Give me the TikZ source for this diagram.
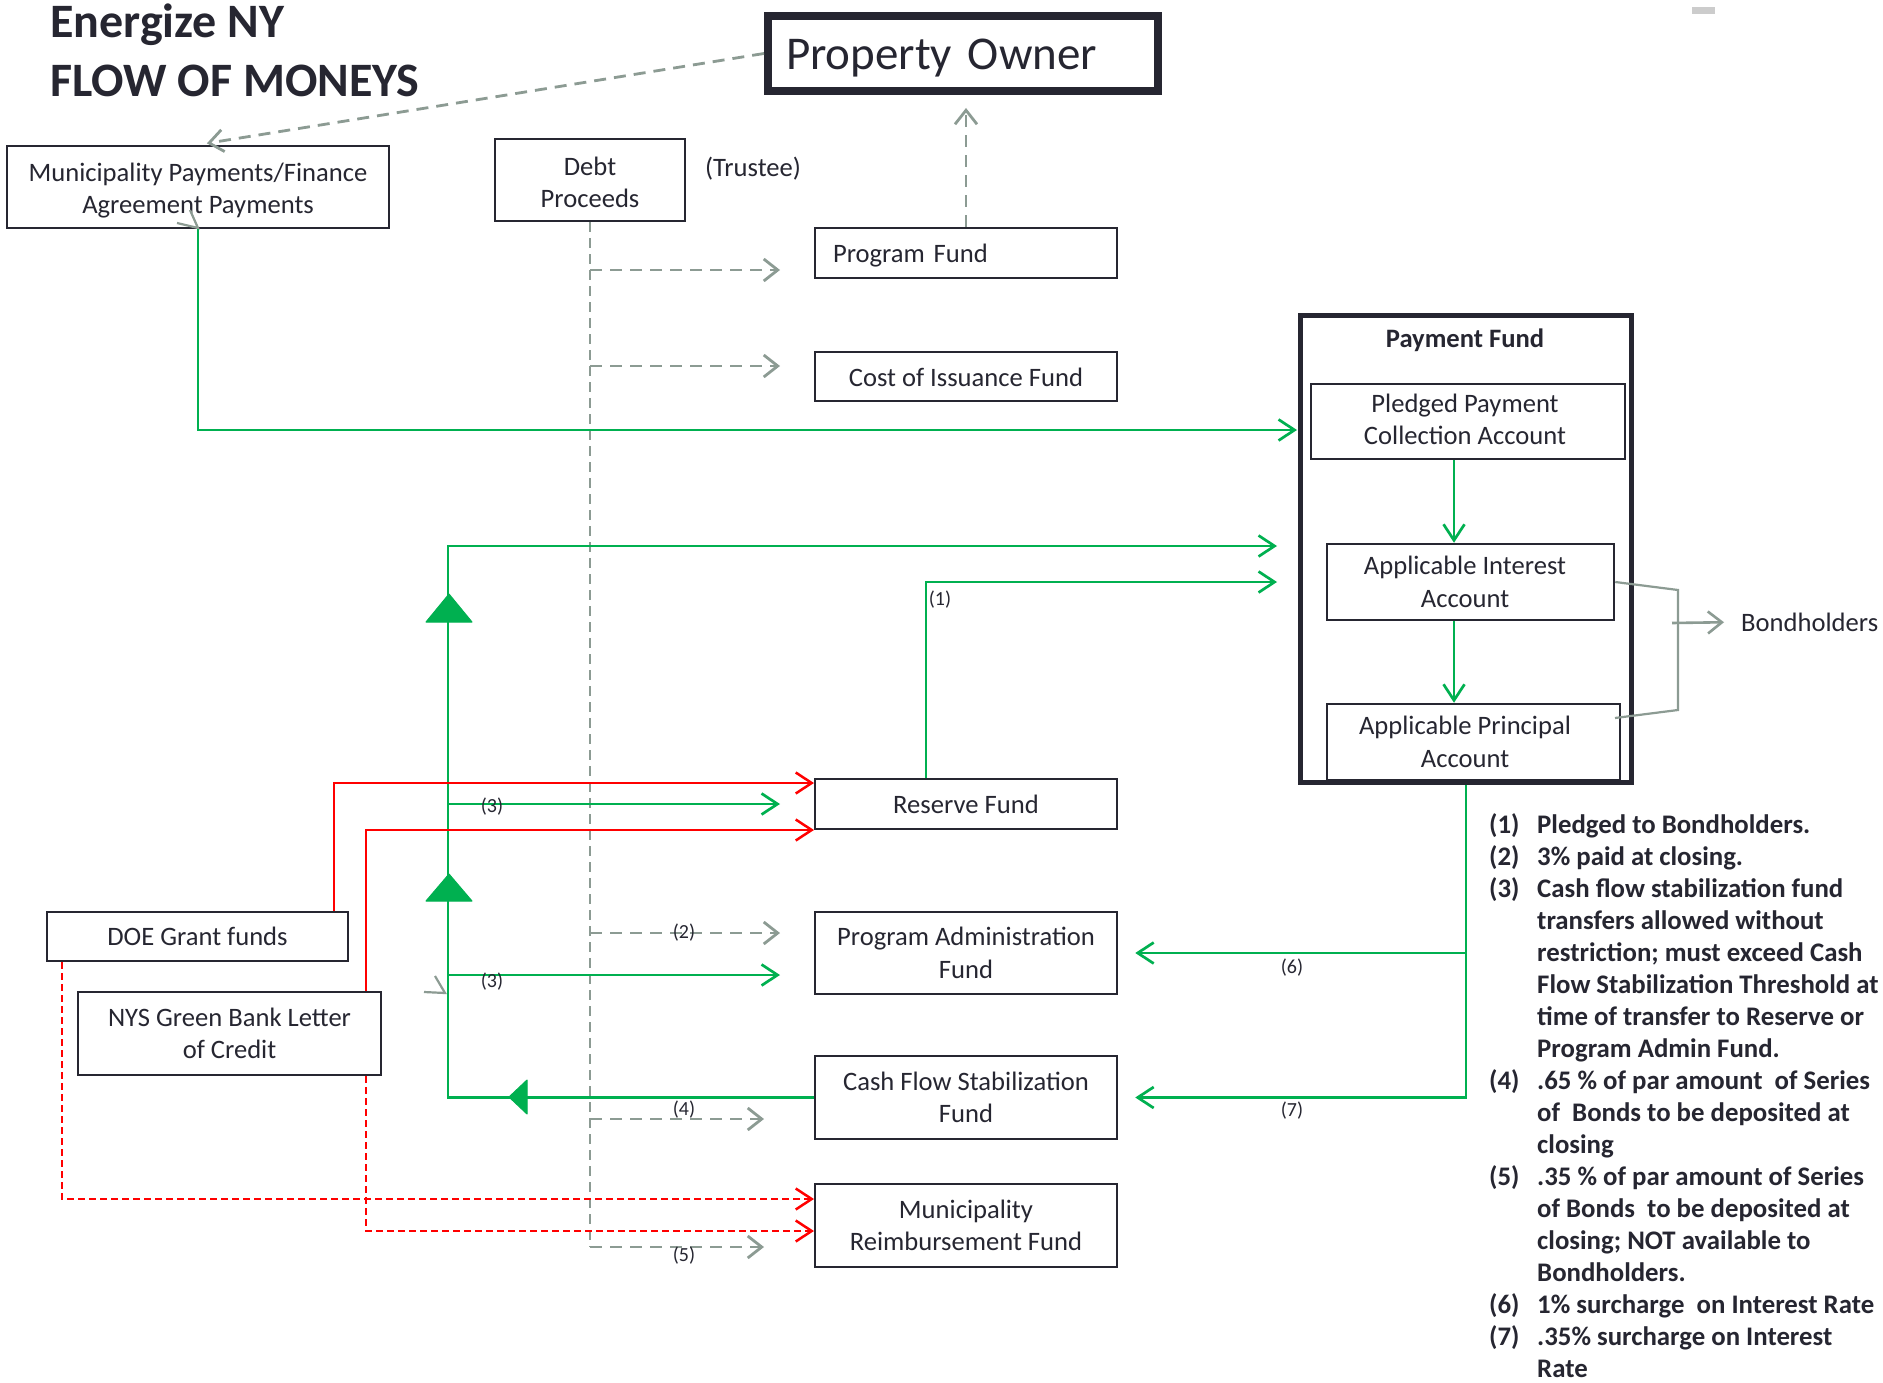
\documentclass[tikz,border=0pt]{standalone}
\usepackage{fontspec}
\setmainfont{Carlito}
\usetikzlibrary{arrows.meta,calc}
\definecolor{ink}{HTML}{262631}
\definecolor{cGreen}{HTML}{00B050}
\definecolor{cRed}{HTML}{FF0000}
\definecolor{cSage}{HTML}{8C9B93}
\newcommand\lblfont{\fontsize{26.6}{32.5}\selectfont}
\newcommand\notefont{\fontsize{26.8}{32}\selectfont}
\newcommand\smlfont{\fontsize{20}{24}\selectfont}
\newcommand\bigfont{\fontsize{47}{56}\selectfont}
\newcommand\titlefont{\fontsize{48}{56}\selectfont}
\newcommand\padr[1]{\hspace*{#1}}
\newcommand\mv[2]{\raisebox{#1}[\height][\depth]{#2}}
\begin{document}
\begin{tikzpicture}[x=1pt,y=-1pt,
  box/.style={draw=ink, line width=2.5pt, font=\lblfont, text=ink, align=center, inner sep=0pt},
  thickbox/.style={box, line width=8pt},
  garr/.style={draw=cGreen, line width=2.7pt, -{Straight Barb[length=16pt,width=21pt]}},
  rarr/.style={draw=cRed, line width=2.5pt, -{Straight Barb[length=16pt,width=21pt]}},
  rdarr/.style={rarr, dash pattern=on 7pt off 4pt},
  sarr/.style={draw=cSage, line width=2.8pt, dash pattern=on 12pt off 8pt, -{Straight Barb[length=14pt,width=22pt]}},
  sdash/.style={draw=cSage, line width=1.8pt, dash pattern=on 10pt off 6pt},
  sline/.style={draw=cSage, line width=2.2pt},
  lbl/.style={font=\smlfont, text=ink, inner sep=0pt},
  plain/.style={font=\lblfont, text=ink, inner sep=0pt},
  note/.style={font=\notefont\bfseries, text=ink, inner sep=0pt, anchor=base west},
  tri/.style={fill=cGreen, draw=cGreen, line width=1pt, line join=round},
]
\fill[white] (0,0) rectangle (1883,1383);
\useasboundingbox (0,0) rectangle (1883,1383);

% title
\node[font=\titlefont\bfseries, text=ink, inner sep=0pt, anchor=base west] (t1) at (50,38) {Energize NY};
\node[font=\titlefont\bfseries, text=ink, inner sep=0pt, anchor=base west] (t2) at (50,97) {FLOW OF MONEYS};
\fill[gray!40] (1692,7) rectangle (1715,14);

% boxes
\node[thickbox, minimum width=390pt, minimum height=75pt, font=\bigfont, text width=354pt, align=left] (owner) at (963,53.5) {\mv{-5pt}{Property Owner}};
\node[box, minimum width=382pt, minimum height=82pt] (munip) at (198,187) {\mv{-3.5pt}{Municipality Payments/Finance}\\\mv{-3.5pt}{Agreement Payments}};
\node[box, minimum width=190pt, minimum height=82pt] (debt) at (590,180) {\mv{-2.5pt}{Debt}\\\mv{-2.5pt}{Proceeds}};
\node[plain] (trustee) at (753,169) {(Trustee)};
\node[box, minimum width=302pt, minimum height=50pt, text width=266pt, align=left] (prog) at (966,253) {\mv{-3pt}{Program Fund}};
\node[box, minimum width=302pt, minimum height=49pt] (coi) at (966,376.5) {\mv{-1pt}{Cost of Issuance Fund}};
\node[box, minimum width=302pt, minimum height=50pt] (res) at (966,804) {Reserve Fund};
\node[box, minimum width=302pt, minimum height=82pt] (padm) at (966,953) {Program Administration\\Fund};
\node[box, minimum width=302pt, minimum height=83pt] (cfs) at (966,1097.5) {Cash Flow Stabilization\\Fund};
\node[box, minimum width=302pt, minimum height=83pt] (mrf) at (966,1225.5) {Municipality\\Reimbursement Fund};
\node[box, minimum width=301pt, minimum height=49pt] (doe) at (197.5,936.5) {DOE Grant funds};
\node[box, minimum width=303pt, minimum height=83pt] (nys) at (229.5,1033.5) {NYS Green Bank Letter\\of Credit};
\node[box, line width=4.5pt, minimum width=331pt, minimum height=467pt] (pf) at (1466,549) {};
\node[plain, font=\lblfont\bfseries] (pft) at (1465,340) {Payment Fund};
\node[box, minimum width=314pt, minimum height=75pt] (pledged) at (1468,421.5) {\mv{2pt}{Pledged Payment\padr{6pt}}\\\mv{2pt}{Collection Account\padr{6pt}}};
\node[box, minimum width=287pt, minimum height=76pt] (intr) at (1470.5,582) {Applicable Interest\padr{11pt}\\Account\padr{11pt}};
\node[box, minimum width=293pt, minimum height=76pt] (prin) at (1473.5,742) {Applicable Principal\padr{17pt}\\Account\padr{17pt}};
\node[plain, anchor=west] (bond) at (1741,622) {Bondholders};

% coordinates
\coordinate (xc) at (1454,0);
\coordinate (pfIn) at (1297,430);
\coordinate (b1) at (1678,590);
\coordinate (b2) at (1678,710);
\coordinate (b3) at (1615,718);
\coordinate (bs) at (1672,623);
\coordinate (gTop) at (448,546);
\coordinate (gTip) at (1277,546);
\coordinate (r1) at (926,582);
\coordinate (r1e) at (1277,582);
\coordinate (g3a) at (448,804);
\coordinate (g3ae) at (780,804);
\coordinate (g3b) at (448,975);
\coordinate (g3be) at (780,975);
\coordinate (rd1) at (334,783);
\coordinate (rd1e) at (814,783);
\coordinate (rd2) at (366,830);
\coordinate (rd2e) at (814,830);
\coordinate (rx3) at (62,0);
\coordinate (rd3) at (62,1199);
\coordinate (rd3e) at (814,1199);
\coordinate (rx4) at (366,0);
\coordinate (rd4) at (366,1231);
\coordinate (rd4e) at (814,1231);
\coordinate (dEnd) at (590,1247);
\coordinate (d1) at (590,270);
\coordinate (d1e) at (780,270);
\coordinate (d2) at (590,366);
\coordinate (d2e) at (780,366);
\coordinate (d3) at (590,933);
\coordinate (d3e) at (780,933);
\coordinate (d4) at (590,1119);
\coordinate (d4e) at (764,1119);
\coordinate (d5e) at (764,1247);

% gray dashed connectors
\draw[sarr, shorten >=9pt] (owner.west) -- (munip.north);
\draw[sarr, shorten >=13pt] (prog.north) -- (prog.north |- owner.south);
\draw[sdash] (debt.south) -- (dEnd);
\draw[sarr] (d1) -- (d1e);
\draw[sarr] (d2) -- (d2e);
\draw[sarr] (d3) -- (d3e);
\draw[sarr] (d4) -- (d4e);
\draw[sarr] (dEnd) -- (d5e);
\node[lbl] (l2) at (684,933) {(2)};
\node[lbl] (l4) at (684,1110) {(4)};
\node[lbl] (l5) at (684,1256) {(5)};

% green connectors
\draw[garr] (munip.south) |- (pfIn);
\draw[sline] (190,210) -- (198,228) -- (177,223);
\draw[garr] (pledged.south -| xc) -- (intr.north -| xc);
\draw[garr] (intr.south -| xc) -- (prin.north -| xc);
\draw[garr, shorten >=17pt] (pf.south) |- (padm.east);
\draw[garr, shorten >=17pt] (pf.south) |- (cfs.east);
\node[lbl] (l6) at (1292,968) {(6)};
\node[lbl] (l7) at (1292,1111) {(7)};
\draw[garr] (cfs.west) -| (gTop) -- (gTip);
\draw[garr] (res.north -| r1) -- (r1) -- (r1e);
\node[lbl] (l1) at (940,600) {(1)};
\draw[garr] (g3a) -- (g3ae);
\draw[garr] (g3b) -- (g3be);
\node[lbl] (l3a) at (492,807) {(3)};
\node[lbl] (l3b) at (492,982) {(3)};
\draw[sline] (435,976) -- (445,993) -- (424,992);
\fill[tri] (449,594) -- (472,622) -- (426,622) -- cycle;
\fill[tri] (449,874) -- (472,901) -- (426,901) -- cycle;
\fill[tri] (509,1097) -- (527,1080) -- (527,1114) -- cycle;

% bondholders bracket
\draw[sline] (intr.east) -- (b1) -- (b2) -- (b3);
\draw[sline, line width=2.6pt, -{Straight Barb[length=14pt,width=22pt]}, shorten >=17pt] (bs) -- (bond.west);

% red connectors
\draw[rarr] (doe.north -| rd1) -- (rd1) -- (rd1e);
\draw[rarr] (nys.north -| rd2) -- (rd2) -- (rd2e);
\draw[rdarr] (doe.south -| rx3) -- (rd3) -- (rd3e);
\draw[rdarr] (nys.south -| rx4) -- (rd4) -- (rd4e);

% notes
\foreach \k/\t in {0/{Pledged to Bondholders.},1/{3\% paid at closing.},2/{Cash flow stabilization fund},3/{transfers allowed without},4/{restriction; must exceed Cash},5/{Flow Stabilization Threshold at},6/{time of transfer to Reserve or},7/{Program Admin Fund.},8/{.65 \% of par amount\ \ of Series},9/{of\ \ Bonds to be deposited at},10/{closing},11/{.35 \% of par amount of Series},12/{of Bonds\ \ to be deposited at},13/{closing; NOT available to},14/{Bondholders.},15/{1\% surcharge\ \ on Interest Rate},16/{.35\% surcharge on Interest},17/{Rate}}
  \node[note] (nt\k) at (1537,{833+32.05*\k}) {\t};
\foreach \k/\n in {0/1,1/2,2/3,8/4,11/5,15/6,16/7}
  \node[note] (nn\n) at (1489,{833+32.05*\k}) {(\n)};
\end{tikzpicture}
\end{document}
